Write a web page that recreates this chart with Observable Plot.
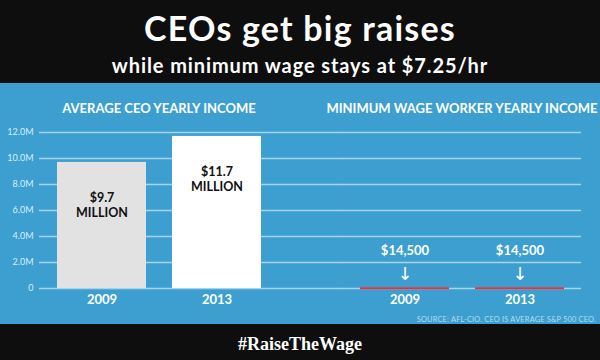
<!DOCTYPE html>
<html><head><meta charset="utf-8">
<script src="https://cdn.jsdelivr.net/npm/d3@7"></script>
<script src="https://cdn.jsdelivr.net/npm/@observablehq/plot@0.6"></script>
<style>
html,body{margin:0;padding:0;background:#0e0e0e;}
#wrap{width:600px;height:360px;overflow:hidden;font-family:Lato,"Open Sans",sans-serif;}
#head{height:83px;background:#0e0e0e;color:#fff;text-align:center;position:relative;}
#title{position:absolute;left:0;right:0;top:8px;font-size:34px;line-height:40px;font-weight:700;letter-spacing:1.2px;}
#sub{position:absolute;left:0;right:0;top:52px;font-size:20px;line-height:26px;font-weight:700;letter-spacing:0.9px;}
#panel{height:241px;background:#3c9fd0;position:relative;}
#source{position:absolute;right:4px;bottom:0px;font-size:7.4px;letter-spacing:0.2px;color:#b5dcf1;}
#foot{height:36px;background:#0e0e0e;color:#fff;text-align:center;font-family:"Liberation Serif",serif;font-weight:700;font-size:18px;line-height:40px;}
</style></head>
<body><div id="wrap">
<div id="head"><div id="title">CEOs get big raises</div><div id="sub">while minimum wage stays at $7.25/hr</div></div>
<div id="panel"><div id="chart"></div><div id="source">SOURCE: AFL-CIO. CEO IS AVERAGE S&amp;P 500 CEO.</div></div>
<div id="foot">#RaiseTheWage</div>
</div>
<script>
const groups = ["CEO", "MW"];
const groupTitles = ["AVERAGE CEO YEARLY INCOME", "MINIMUM WAGE WORKER YEARLY INCOME"];
const years = ["2009", "2013"];
const ceoIncome = [9.7e6, 11.7e6];
const ceoLabels = ["$9.7\nMILLION", "$11.7\nMILLION"];
const minWageIncome = [14500, 14500];
const minWageLabels = ["$14,500", "$14,500"];
const yTicks = [0, 2e6, 4e6, 6e6, 8e6, 10e6, 12e6];
const yTickLabels = ["0", "2.0M", "4.0M", "6.0M", "8.0M", "10.0M", "12.0M"];

const ceoRows = years.map((y, i) => ({group: "CEO", year: y, value: ceoIncome[i], label: ceoLabels[i]}));
const mwRows = years.map((y, i) => ({group: "MW", year: y, value: minWageIncome[i], label: minWageLabels[i]}));
const gridRows = groups.flatMap(g => yTicks.map(t => ({group: g, tick: t})));

// layout
const W = 600, mL = 39, mR = 18, fxPad = 0.21;
const fxStep = (W - mL - mR) / (groups.length - fxPad);
const facetGap = fxStep * fxPad;

const chart = Plot.plot({
  width: W, height: 241,
  marginTop: 49, marginBottom: 36, marginLeft: mL, marginRight: mR,
  style: {background: "transparent", fontFamily: "Lato, 'Open Sans', sans-serif", overflow: "visible"},
  fx: {domain: groups, paddingInner: fxPad, paddingOuter: 0, label: null},
  x: {domain: years, paddingInner: 0.23, paddingOuter: 0.15, label: null},
  y: {domain: [0, 12e6], label: null},
  marks: [
    Plot.ruleY(gridRows.filter(d => d.group === groups[0]), {fx: "group", y: "tick", stroke: "#a8d3ee", strokeWidth: 1.5, insetRight: -facetGap - 1}),
    Plot.ruleY(gridRows.filter(d => d.group === groups[1]), {fx: "group", y: "tick", stroke: "#a8d3ee", strokeWidth: 1.5}),
    Plot.axisFx({anchor: "top", tickSize: 0, tickPadding: 20, fontSize: 13, fontWeight: "bold", fill: "white", label: null,
      tickFormat: g => groupTitles[groups.indexOf(g)]}),
    Plot.axisX({tickSize: 0, tickPadding: 6, fontSize: 13, fontWeight: "bold", fill: "white", label: null}),
    Plot.axisY({ticks: yTicks, tickSize: 0, tickPadding: 6, fontSize: 9, fill: "#d8eef9", label: null,
      tickFormat: v => yTickLabels[yTicks.indexOf(v)]}),
    Plot.barY(ceoRows, {fx: "group", x: "year", y: "value", fill: d => d.year === years[0] ? "#e2e2e2" : "#ffffff"}),
    Plot.text(ceoRows, {fx: "group", x: "year", y: "value", text: "label", dy: 42, fontSize: 12.5, fontWeight: "bold", fill: "#111", lineHeight: 1.2}),
    Plot.tickY(mwRows, {fx: "group", x: "year", y: "value", stroke: "#e8333a", strokeWidth: 2}),
    Plot.text(mwRows, {fx: "group", x: "year", y: "value", text: "label", dy: -37, fontSize: 13, fontWeight: "bold", fill: "white"}),
    Plot.text(mwRows, {fx: "group", x: "year", y: "value", text: () => "↓", dy: -14, fontSize: 18, fill: "white", fontFamily: "DejaVu Sans"})
  ]
});
document.getElementById("chart").appendChild(chart);
</script>
</body></html>
